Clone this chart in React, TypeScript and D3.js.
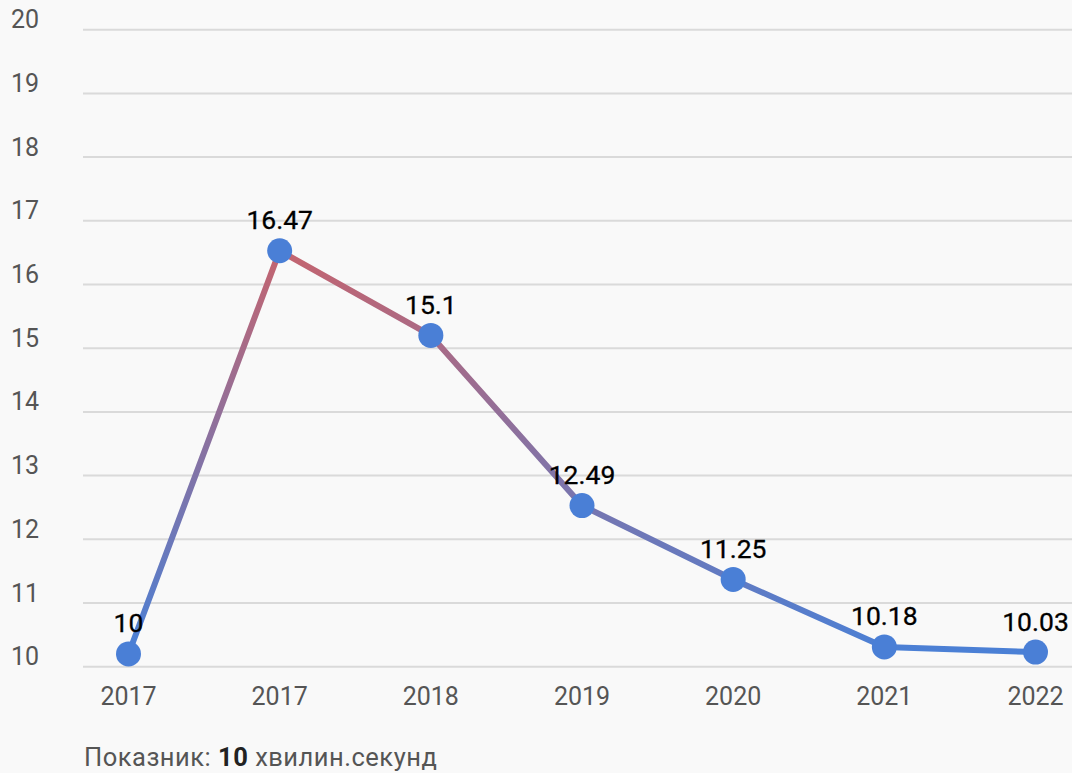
import React from "react";
import * as d3 from "d3";

const categories = ["2017", "2017", "2018", "2019", "2020", "2021", "2022"];
const values = [10.2, 16.53, 15.2, 12.53, 11.37, 10.31, 10.23];
const valueLabels = ["10", "16.47", "15.1", "12.49", "11.25", "10.18", "10.03"];
const yTicks = [10, 11, 12, 13, 14, 15, 16, 17, 18, 19, 20];

const W = 1072;
const H = 773;
const FONT = "Roboto, 'Noto Sans', sans-serif";

export default function App() {
  const x = d3
    .scalePoint<number>()
    .domain(categories.map((_, i) => i))
    .range([128.5, 1035.5]);
  const y = d3.scaleLinear().domain([10, 20]).range([666.7, 29.7]);

  const line = d3
    .line<number>()
    .x((_, i) => x(i) as number)
    .y((d) => y(d));

  const top = y(d3.max(values) as number);
  const bottom = y(d3.min(values) as number);

  return (
    <div style={{ position: "fixed", left: 0, top: 0, width: W, height: H }}>
      <svg width={W} height={H} style={{ display: "block" }}>
        <defs>
          <linearGradient
            id="lineGrad"
            gradientUnits="userSpaceOnUse"
            x1={0}
            x2={0}
            y1={top}
            y2={bottom}
          >
            <stop offset="0%" stopColor="#c4646f" />
            <stop offset="100%" stopColor="#4a80d6" />
          </linearGradient>
        </defs>
        <rect x={0} y={0} width={W} height={H} fill="#f9f9f9" />
        {yTicks.map((t) => (
          <g key={t}>
            <line
              x1={83}
              x2={W}
              y1={y(t)}
              y2={y(t)}
              stroke="#dadada"
              strokeWidth={2}
            />
            <text
              x={11}
              y={y(t) - 1.5}
              fontFamily={FONT}
              fontSize={25}
              fill="#555"
            >
              {t}
            </text>
          </g>
        ))}
        {categories.map((c, i) => (
          <text
            key={i}
            x={x(i) as number}
            y={705}
            textAnchor="middle"
            fontFamily={FONT}
            fontSize={25}
            fill="#555"
          >
            {c}
          </text>
        ))}
        <path
          d={line(values) || ""}
          fill="none"
          stroke="url(#lineGrad)"
          strokeWidth={6}
          strokeLinejoin="round"
        />
        {values.map((v, i) => (
          <circle key={i} cx={x(i) as number} cy={y(v)} r={12.5} fill="#4a7fd6" />
        ))}
        {values.map((v, i) => (
          <text
            key={i}
            x={x(i) as number}
            y={y(v) - 21.5}
            textAnchor="middle"
            fontFamily={FONT}
            fontSize={26.5}
            fontWeight={400}
            fill="#000"
            stroke="#000"
            strokeWidth={0.3}
          >
            {valueLabels[i]}
          </text>
        ))}
        <text
          x={84}
          y={765.5}
          fontFamily={FONT}
          fontSize={25.5}
          letterSpacing={0.5}
          fill="#555"
        >
          Показник:{" "}
          <tspan fontWeight={700} fill="#222">
            10
          </tspan>{" "}
          хвилин.секунд
        </text>
      </svg>
    </div>
  );
}
